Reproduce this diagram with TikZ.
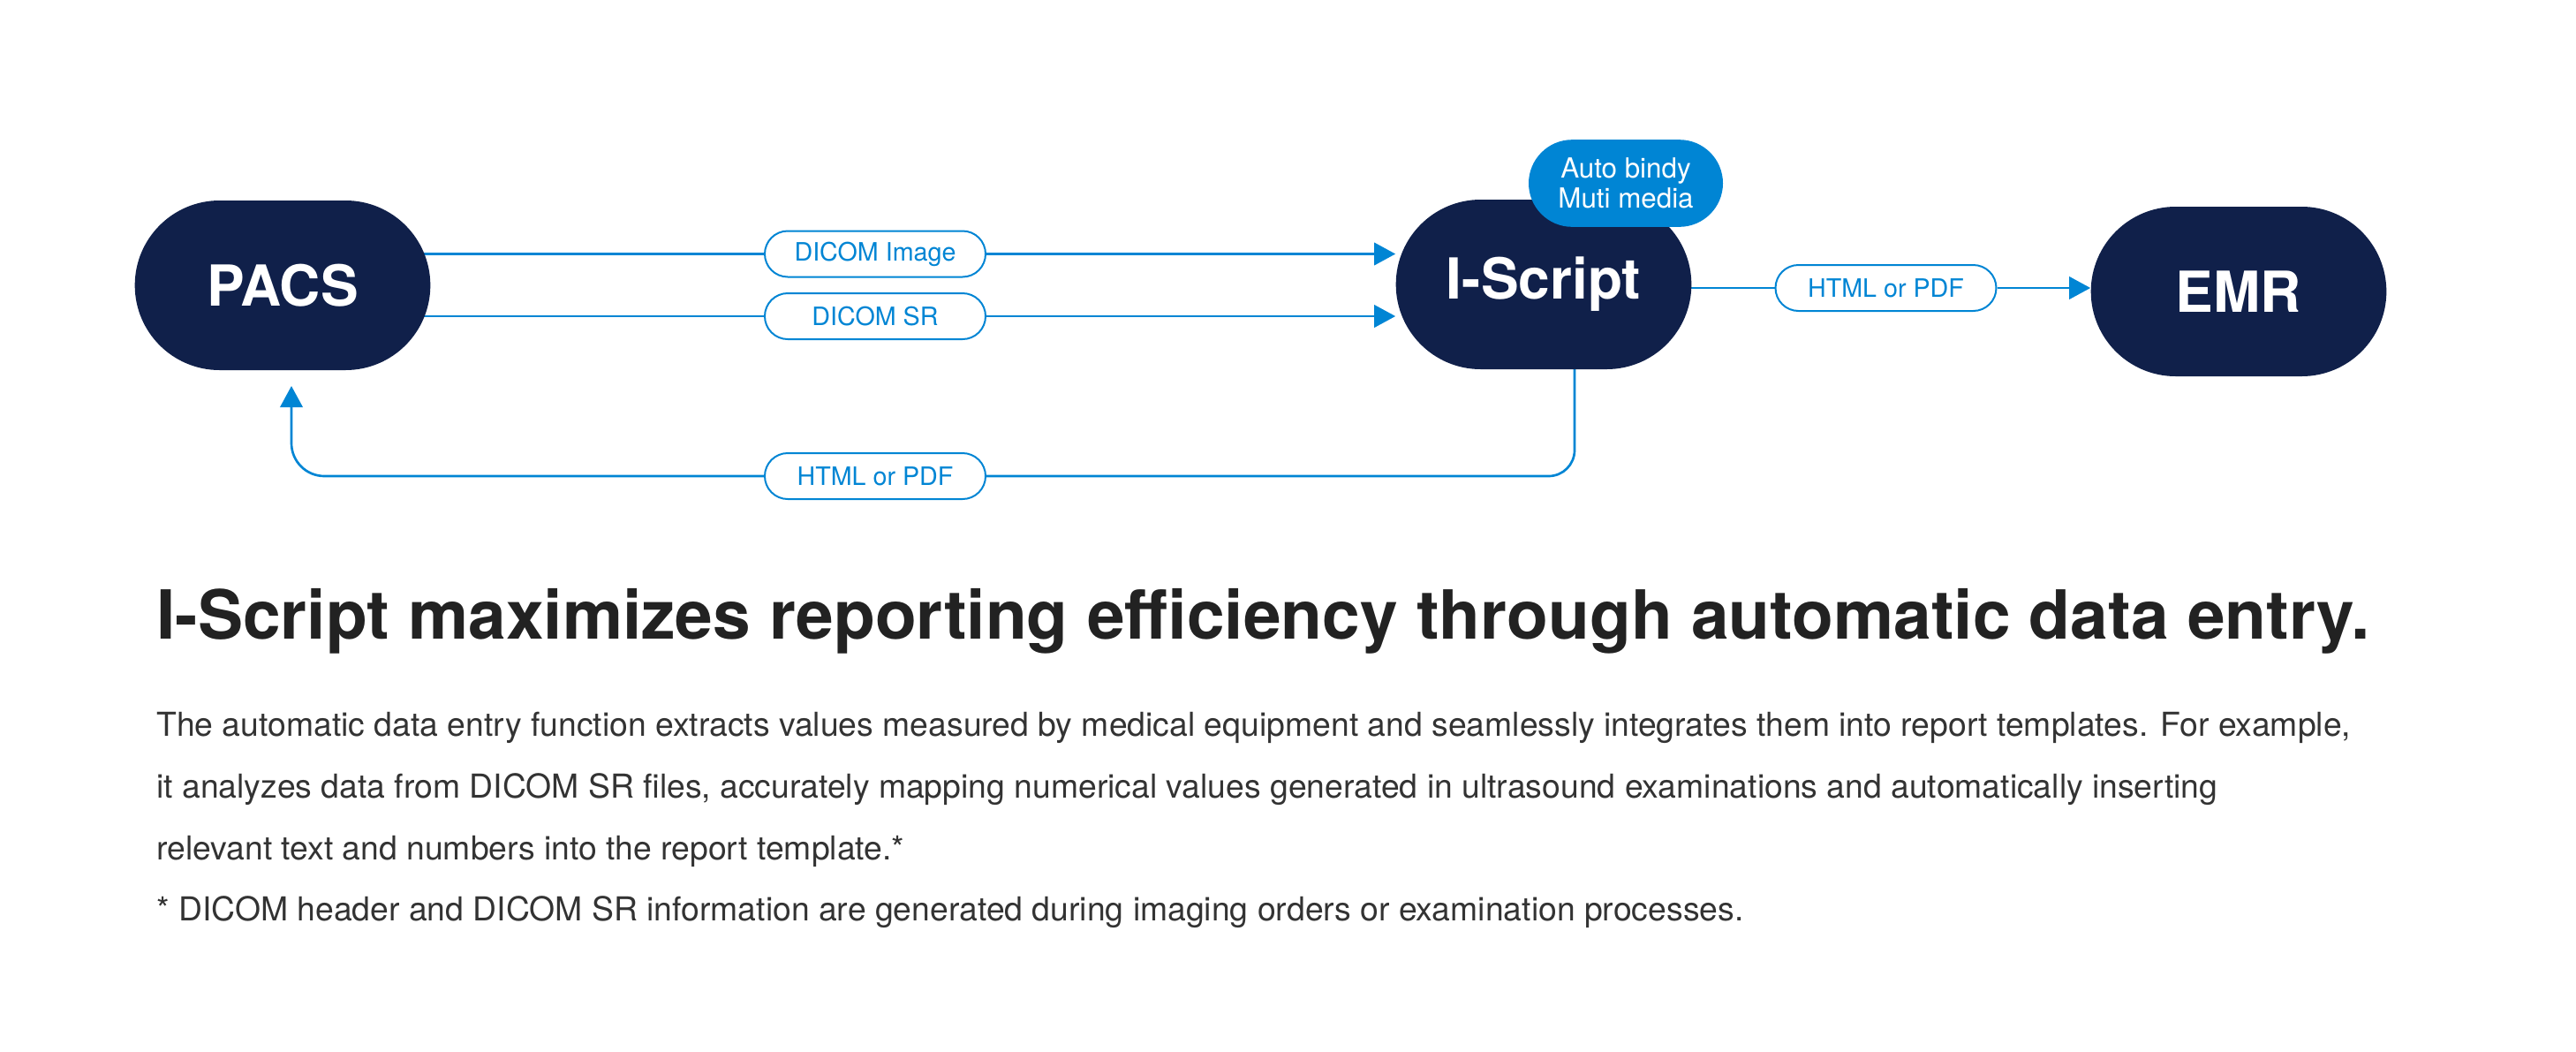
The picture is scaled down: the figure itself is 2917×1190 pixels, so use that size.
\documentclass[tikz,border=0pt]{standalone}
\usepackage{fontspec}
\setmainfont{TeX Gyre Heros}
\usetikzlibrary{arrows.meta}

\definecolor{navy}{RGB}{16,32,74}
\definecolor{iblue}{RGB}{0,133,212}
\definecolor{ink}{RGB}{34,34,34}
\definecolor{gray}{RGB}{51,51,51}

\pgfdeclarelayer{bg}
\pgfsetlayers{bg,main}

\tikzset{every picture/.style={line width=0.75pt}}

\begin{document}
\begin{tikzpicture}[x=0.75pt,y=0.75pt,yscale=-1,xscale=1,
	sysbox/.style={fill=navy, text=white, rounded corners=72pt, minimum width=251pt, minimum height=144pt, font=\fontsize{48}{56}\selectfont\bfseries},
	tag/.style={draw=iblue, fill=white, text=iblue, line width=1.5pt, rounded corners=19.5pt, minimum width=187.5pt, minimum height=39pt, inner sep=0pt, font=\fontsize{21.5}{25}\selectfont},
	badge/.style={fill=iblue, text=white, rounded corners=37pt, minimum width=165pt, minimum height=74pt, inner sep=0pt, align=center, font=\fontsize{23.5}{25.5}\selectfont},
	bodytext/.style={anchor=base west, inner sep=0pt, text=gray, font=\fontsize{28}{32}\selectfont},
	flow/.style={draw=iblue, line width=2pt},
	tip/.style={-{Triangle[length=18pt,width=19pt]}}]
	%set diagram size
	\useasboundingbox (0,0) rectangle (2917,1190);

	%Shape: Rounded Rect [PACS]
	\node[sysbox] (PACS) at (320,323) {PACS};
	%Shape: Rounded Rect [I-Script]
	\node[sysbox] (IScript) at (1748,322) {I-Script};
	%Shape: Rounded Rect [EMR]
	\node[sysbox] (EMR) at (2535,330) {EMR};
	%Shape: Rounded Rect [badge]
	\node[badge] (bindy) at (1841,207.5) {Auto bindy\\Muti media};

	% Tag Nodes
	\node[tag] (img) at (991,287.5) {DICOM Image};
	\node[tag] (sr) at (991,358) {DICOM SR};
	\node[tag] (back) at (991,539) {HTML or PDF};
	\node[tag] (out) at (2135.5,326) {HTML or PDF};

	\coordinate (iout) at (1783,322);
	\coordinate (pin) at (330,437);

	\begin{pgfonlayer}{bg}
	%Straight Lines [PACS -> I-Script]
	\draw[flow] (PACS.center |- img.west) -- (img.west);
	\draw[flow,tip] (img.east) -- (img.east -| IScript.west);
	\draw[flow] (PACS.center |- sr.west) -- (sr.west);
	\draw[flow,tip] (sr.east) -- (sr.east -| IScript.west);
	%Straight Lines [I-Script -> EMR]
	\draw[flow] (IScript.center |- out.west) -- (out.west);
	\draw[flow,tip] (out.east) -- (out.east -| EMR.west);
	%Curve Lines [I-Script -> PACS]
	\draw[flow, rounded corners=22pt] (iout) |- (back.east);
	\draw[flow, tip, rounded corners=28pt] (back.west) -| (pin);
	\end{pgfonlayer}

	% Text Node
	\node[anchor=base west, inner sep=0pt, text=ink, font=\fontsize{57.5}{62}\selectfont\bfseries] (title) at (177,723) {I-Script maximizes reporting efficiency through automatic data entry.};
	% Text Node
	\node[bodytext] (body1) at (177,833) {The automatic data entry function extracts values measured by medical equipment and seamlessly integrates them into report templates. For example,};
	\node[bodytext] (body2) at (177,903) {it analyzes data from DICOM SR files, accurately mapping numerical values generated in ultrasound examinations and automatically inserting};
	\node[bodytext] (body3) at (177,973) {relevant text and numbers into the report template.*};
	\node[bodytext] (note) at (177,1042) {* DICOM header and DICOM SR information are generated during imaging orders or examination processes.};

\end{tikzpicture}
\end{document}
